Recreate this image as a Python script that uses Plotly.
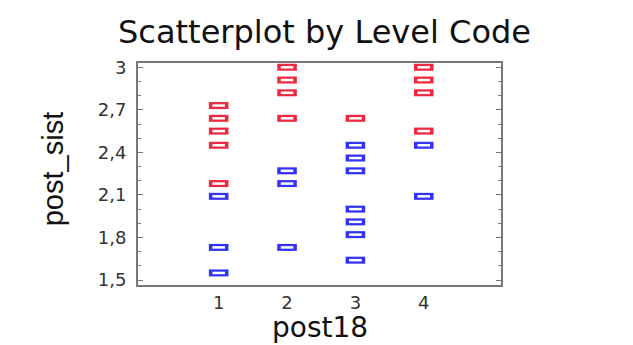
import plotly.graph_objects as go

# Data
x_red = [1, 1, 1, 1, 1, 2, 2, 2, 2, 3, 4, 4, 4, 4]
y_red = [2.73, 2.64, 2.55, 2.45, 2.18, 3.0, 2.91, 2.82, 2.64, 2.64, 3.0, 2.91, 2.82, 2.55]
x_blue = [1, 1, 1, 2, 2, 2, 3, 3, 3, 3, 3, 3, 3, 4, 4]
y_blue = [2.09, 1.73, 1.55, 2.27, 2.18, 1.73, 2.45, 2.36, 2.27, 2.0, 1.91, 1.82, 1.64, 2.45, 2.09]

x_ticks = [1, 2, 3, 4]
x_ticktext = ["1", "2", "3", "4"]
y_ticks = [1.5, 1.8, 2.1, 2.4, 2.7, 3.0]
y_ticktext = ["1,5", "1,8", "2,1", "2,4", "2,7", "3"]

title_text = "Scatterplot by Level Code"
x_title = "post18"
y_title = "post_sist"

RED = "rgb(238,40,62)"
BLUE = "rgb(50,50,248)"


def add_rect_markers(fig, xs, ys, color):
    # hollow wide rectangle: thick coloured horizontal bar with a white core
    fig.add_trace(go.Scatter(
        x=xs, y=ys, mode="markers",
        marker=dict(symbol="line-ew", size=14, line=dict(width=7, color=color)),
        showlegend=False, hoverinfo="x+y"))
    fig.add_trace(go.Scatter(
        x=xs, y=ys, mode="markers",
        marker=dict(symbol="line-ew", size=9, line=dict(width=2.5, color="white")),
        showlegend=False, hoverinfo="skip"))


fig = go.Figure()
add_rect_markers(fig, x_red, y_red, RED)
add_rect_markers(fig, x_blue, y_blue, BLUE)

axis_line = "rgb(120,120,120)"
fig.update_layout(
    width=633, height=345,
    margin=dict(l=130, r=140, t=55, b=68),
    paper_bgcolor="white", plot_bgcolor="white",
    separators=", ",
    title=dict(text=title_text, x=0.5, xanchor="center", y=0.93, yanchor="middle",
               font=dict(family="DejaVu Sans", size=32, color="#111")),
    xaxis=dict(range=[-0.18, 5.13], tickvals=x_ticks, ticktext=x_ticktext,
               showgrid=False, zeroline=False, showline=True, mirror=True,
               linecolor=axis_line, linewidth=2, ticks="",
               tickfont=dict(family="DejaVu Sans", size=18, color="#333")),
    yaxis=dict(range=[1.465, 3.03], tickvals=y_ticks, ticktext=y_ticktext,
               showgrid=False, zeroline=False, showline=True, mirror="allticks",
               linecolor=axis_line, linewidth=2, ticks="inside", ticklen=5,
               tickcolor=axis_line, tickwidth=1, ticklabelstandoff=6,
               minor=dict(dtick=0.1, ticks="inside", ticklen=3, tickcolor=axis_line, tickwidth=1),
               tickfont=dict(family="DejaVu Sans", size=18, color="#333")),
)
fig.add_annotation(text=y_title, textangle=-90, xref="paper", yref="paper",
                   x=-0.235, y=0.52, xanchor="center", yanchor="middle", showarrow=False,
                   font=dict(family="Liberation Sans", size=29, color="#111"))
fig.add_annotation(text=x_title, xref="paper", yref="paper",
                   x=0.5, y=-0.19, xanchor="center", yanchor="middle", showarrow=False,
                   font=dict(family="DejaVu Sans", size=28, color="#111"))

fig.write_html("out.html")
